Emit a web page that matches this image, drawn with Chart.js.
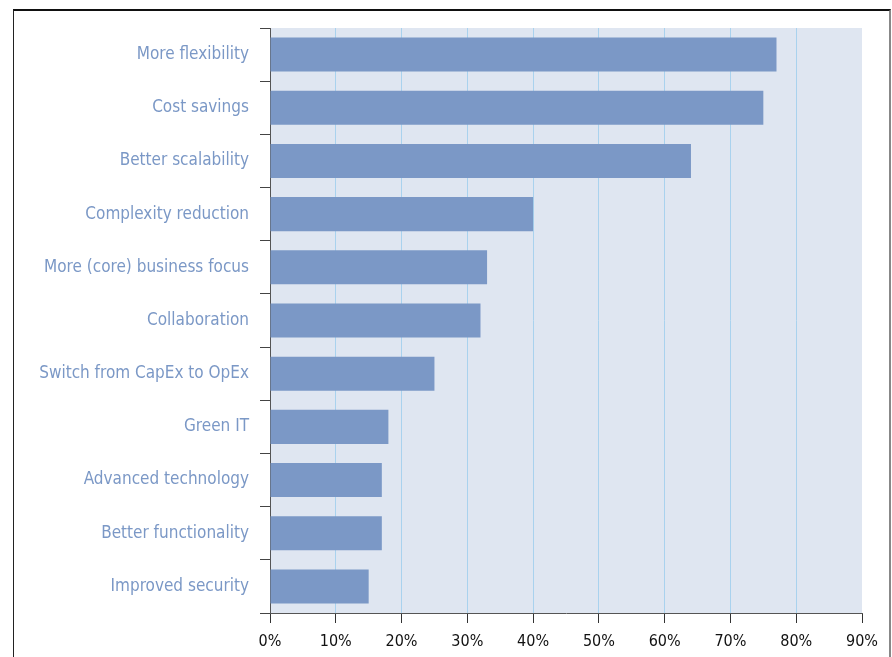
<!DOCTYPE html>
<html>
<head>
<meta charset="utf-8">
<script src="https://cdn.jsdelivr.net/npm/chart.js@4.4.0/dist/chart.umd.min.js"></script>
<style>
  html, body { margin: 0; padding: 0; background: #fff; }
  #wrap { position: relative; width: 892px; height: 657px; overflow: hidden; }
  #frame { position: absolute; left: 13px; top: 9px; width: 875px; height: 700px;
           border-left: 1px solid #222; border-top: 2px solid #111; border-right: 2px solid #888; }
  #c { position: absolute; left: 0; top: 0; }
</style>
</head>
<body>
<div id="wrap">
  <div id="frame"></div>
  <canvas id="c" width="892" height="657"></canvas>
</div>
<script>
const categories = [
  'More flexibility', 'Cost savings', 'Better scalability', 'Complexity reduction',
  'More (core) business focus', 'Collaboration', 'Switch from CapEx to OpEx',
  'Green IT', 'Advanced technology', 'Better functionality', 'Improved security'
];
const shares = [77, 75, 64, 40, 33, 32, 25, 18, 17, 17, 15];
const xTicks = [0, 10, 20, 30, 40, 50, 60, 70, 80, 90];

const FONT = "'Liberation Sans Narrow', 'DejaVu Sans Condensed', 'Roboto', sans-serif";

const plotBg = {
  id: 'plotBg',
  beforeDraw(chart) {
    const { ctx, chartArea: a } = chart;
    ctx.save();
    ctx.fillStyle = '#dfe6f1';
    ctx.fillRect(a.left, a.top, a.right - a.left, a.bottom - a.top);
    ctx.restore();
  }
};

new Chart(document.getElementById('c'), {
  type: 'bar',
  data: {
    labels: categories,
    datasets: [{
      data: shares,
      backgroundColor: '#7b98c6',
      barPercentage: 0.64,
      categoryPercentage: 1.0
    }]
  },
  options: {
    indexAxis: 'y',
    responsive: false,
    animation: false,
    layout: { padding: { top: 28, right: 30, left: 0, bottom: 0 } },
    plugins: { legend: { display: false }, tooltip: { enabled: false } },
    scales: {
      x: {
        min: 0, max: 90,
        afterBuildTicks: s => { s.ticks = xTicks.map(v => ({ value: v })); },
        afterFit: s => { s.height = 44; },
        border: { color: '#555', width: 1 },
        grid: {
          color: c => (c.tick && (c.tick.value === 0 || c.tick.value === 90)) ? 'rgba(0,0,0,0)' : '#a9d2ee',
          tickColor: '#333',
          tickLength: 10,
          lineWidth: 1
        },
        ticks: {
          color: '#111',
          padding: 9,
          font: { family: FONT, size: 16 },
          callback: v => v + '%'
        }
      },
      y: {
        afterFit: s => { s.width = 270; },
        border: { color: '#555', width: 1 },
        grid: {
          drawOnChartArea: false,
          color: '#444',
          tickColor: '#444',
          tickLength: 10,
          offset: true
        },
        ticks: {
          color: '#7b98c6',
          padding: 11,
          font: { family: FONT, size: 17 }
        }
      }
    }
  },
  plugins: [plotBg]
});
</script>
</body>
</html>
